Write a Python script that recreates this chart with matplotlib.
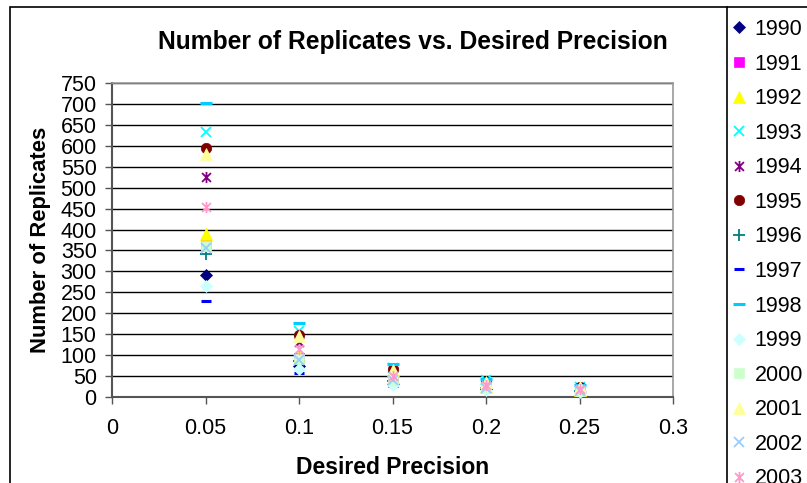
import matplotlib
matplotlib.use("Agg")
import matplotlib.pyplot as plt
from matplotlib.path import Path
from matplotlib.patches import Rectangle
from matplotlib.lines import Line2D

plt.rcParams['font.family'] = ['Liberation Sans', 'DejaVu Sans']

precision = [0.05, 0.10, 0.15, 0.20, 0.25]
years = ['1990', '1991', '1992', '1993', '1994', '1995', '1996',
         '1997', '1998', '1999', '2000', '2001', '2002', '2003']
replicates = {
    '1990': [292, 73, 32, 18, 12],
    '1991': [368, 92, 41, 23, 15],
    '1992': [390, 98, 43, 24, 16],
    '1993': [632, 158, 70, 40, 25],
    '1994': [526, 132, 58, 33, 21],
    '1995': [594, 149, 66, 37, 24],
    '1996': [342, 86, 38, 21, 14],
    '1997': [230, 58, 26, 14, 9],
    '1998': [702, 176, 78, 44, 28],
    '1999': [264, 66, 29, 17, 11],
    '2000': [360, 90, 40, 23, 14],
    '2001': [580, 145, 64, 36, 23],
    '2002': [356, 89, 40, 22, 14],
    '2003': [454, 114, 50, 28, 18],
}
x_ticks = [0, 0.05, 0.1, 0.15, 0.2, 0.25, 0.3]
x_tick_labels = ['0', '0.05', '0.1', '0.15', '0.2', '0.25', '0.3']
y_ticks = list(range(0, 751, 50))

# star marker: an x with a vertical bar through it
star = Path([(-1, -1), (1, 1), (-1, 1), (1, -1), (0, -1.25), (0, 1.25)],
            [Path.MOVETO, Path.LINETO, Path.MOVETO, Path.LINETO, Path.MOVETO, Path.LINETO])
short_dash = Path([(-0.5, 0), (0.5, 0)], [Path.MOVETO, Path.LINETO])
long_dash = Path([(-1, 0), (1, 0)], [Path.MOVETO, Path.LINETO])

styles = {
    '1990': dict(marker='D', color='#000080', ms=6.5, filled=True),
    '1991': dict(marker='s', color='#FF00FF', ms=6.5, filled=True),
    '1992': dict(marker='^', color='#FFFF00', ms=8, filled=True),
    '1993': dict(marker='x', color='#00FFFF', ms=7.5, filled=False, mew=1.3),
    '1994': dict(marker=star, color='#800080', ms=8, filled=False, mew=1.3),
    '1995': dict(marker='o', color='#800000', ms=7.5, filled=True),
    '1996': dict(marker='+', color='#008080', ms=8, filled=False, mew=1.3),
    '1997': dict(marker=short_dash, color='#0000FF', ms=7, filled=False, mew=2.2),
    '1998': dict(marker=long_dash, color='#00CCFF', ms=8, filled=False, mew=2.2),
    '1999': dict(marker='D', color='#CCFFFF', ms=6.5, filled=True),
    '2000': dict(marker='s', color='#CCFFCC', ms=6.5, filled=True),
    '2001': dict(marker='^', color='#FFFF99', ms=8, filled=True),
    '2002': dict(marker='x', color='#99CCFF', ms=7.5, filled=False, mew=1.3),
    '2003': dict(marker=star, color='#FF99CC', ms=8, filled=False, mew=1.3),
}

fig = plt.figure(figsize=(8.07, 4.83), dpi=100)
ax = fig.add_axes([112 / 807, 1 - 397 / 483, (673 - 112) / 807, (397 - 83) / 483])

handles = []
for y in years:
    st = styles[y]
    kw = dict(linestyle='none', marker=st['marker'], markersize=st['ms'],
              color=st['color'], label=y)
    if st['filled']:
        kw.update(markerfacecolor=st['color'], markeredgecolor=st['color'], markeredgewidth=0.5)
    else:
        kw.update(markeredgewidth=st.get('mew', 1.3))
    line, = ax.plot(precision, replicates[y], clip_on=False, zorder=3, **kw)
    handles.append(line)

ax.set_xlim(0, 0.3)
ax.set_ylim(0, 750)
ax.set_xticks(x_ticks)
ax.set_xticklabels(x_tick_labels)
ax.set_yticks(y_ticks)
ax.yaxis.grid(True, color='black', linewidth=1.0)
ax.set_axisbelow(True)
ax.tick_params(axis='both', labelsize=15.5, length=5, width=1, color='#555555', direction='out')
ax.tick_params(axis='x', pad=10)
ax.tick_params(axis='y', pad=6)
for side in ['left', 'bottom']:
    ax.spines[side].set_color('#555555')
    ax.spines[side].set_linewidth(1.5)
for side in ['top', 'right']:
    ax.spines[side].set_color('#999999')
    ax.spines[side].set_linewidth(1.2)

ax.set_xlabel('Desired Precision', fontsize=16.5, fontweight='bold', labelpad=12)
ax.set_ylabel('Number of Replicates', fontsize=15.8, fontweight='bold', labelpad=7)
fig.text(413 / 807, 1 - 42 / 483, 'Number of Replicates vs. Desired Precision',
         ha='center', va='center', fontsize=17.7, fontweight='bold')

# chart frame and legend frame
fig.add_artist(Rectangle((10 / 807, -0.05), 1.1, 1 - 7 / 483 + 0.05, transform=fig.transFigure,
                         fill=False, edgecolor='black', linewidth=1.2))
fig.add_artist(Line2D([727 / 807, 727 / 807], [-0.05, 1 - 7 / 483], transform=fig.transFigure,
                      color='black', linewidth=1.2))

fig.legend(handles=handles, loc='upper left', bbox_to_anchor=(730 / 807, 1 - 19 / 483),
           frameon=False, fontsize=15.5, labelspacing=0.63, handlelength=0.8,
           handletextpad=0.35, borderaxespad=0, borderpad=0)

fig.savefig('out.png', dpi=100)
